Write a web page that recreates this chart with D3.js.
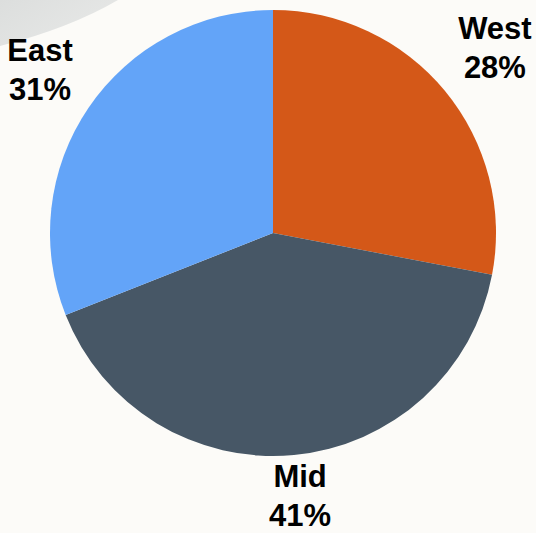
<!DOCTYPE html>
<html>
<head>
<meta charset="utf-8">
<script src="https://cdn.jsdelivr.net/npm/d3@7"></script>
<style>
  html, body { margin: 0; padding: 0; background: #fcfbf8; }
  svg { display: block; }
</style>
</head>
<body>
<div id="chart"></div>
<script>
  const regions = ['West', 'Mid', 'East'];
  const shares = [28, 41, 31];
  const sliceColors = ['#d45818', '#475766', '#63a4f8'];

  const width = 536;
  const height = 533;
  const center = { x: 273, y: 233 };
  const radius = 223;

  const svg = d3.select('#chart').append('svg')
    .attr('width', width)
    .attr('height', height);

  // faint backdrop swoosh in the corner
  const defs = svg.append('defs');
  const grad = defs.append('linearGradient').attr('id', 'swoosh')
    .attr('x1', '0%').attr('y1', '0%').attr('x2', '100%').attr('y2', '60%');
  grad.append('stop').attr('offset', '0%').attr('stop-color', '#dcdedd');
  grad.append('stop').attr('offset', '100%').attr('stop-color', '#e7e8e7');
  svg.append('path')
    .attr('d', 'M0,0 L118,0 Q70,28 0,46 Z')
    .attr('fill', 'url(#swoosh)');

  const data = regions.map((r, i) => ({ region: r, value: shares[i], color: sliceColors[i] }));

  const pie = d3.pie().value(d => d.value).sort(null);
  const arc = d3.arc().innerRadius(0).outerRadius(radius);
  const labelArc = d3.arc().innerRadius(288).outerRadius(288);

  const g = svg.append('g')
    .attr('transform', `translate(${center.x}, ${center.y})`);

  const arcs = pie(data);

  g.selectAll('.slice')
    .data(arcs)
    .enter().append('path')
    .attr('class', 'slice')
    .attr('d', arc)
    .attr('fill', d => d.data.color);

  const labels = svg.append('g').attr('class', 'labels');

  arcs.forEach(d => {
    const [lx, ly] = labelArc.centroid(d);
    let x = center.x + lx;
    let y = center.y + ly;
    x = Math.max(40, Math.min(width - 41, x));
    y = Math.max(47, Math.min(height - 36, y));

    const t = labels.append('text')
      .attr('text-anchor', 'middle')
      .attr('font-family', '"Liberation Sans", Arial, sans-serif')
      .attr('font-weight', 'bold')
      .attr('font-size', 31)
      .attr('fill', '#000');
    t.append('tspan').attr('x', x).attr('y', y - 10).text(d.data.region);
    t.append('tspan').attr('x', x).attr('y', y + 29).text(d.data.value + '%');
  });
</script>
</body>
</html>
